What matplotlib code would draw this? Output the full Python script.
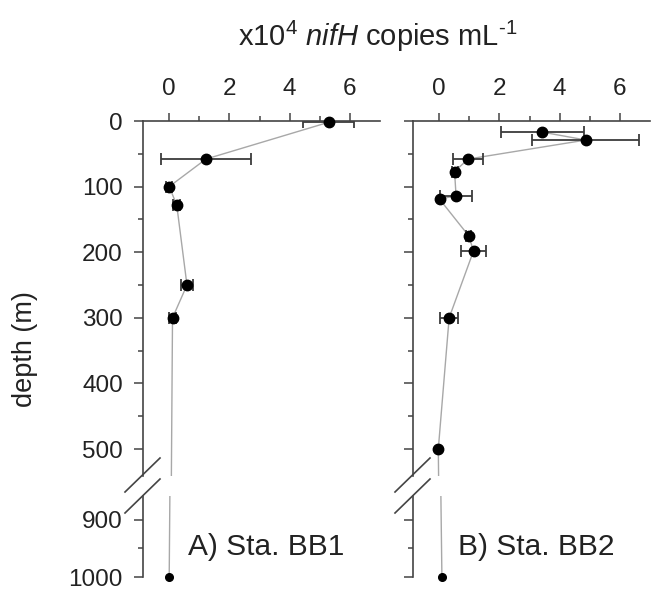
import matplotlib
matplotlib.use('Agg')
import matplotlib.pyplot as plt
from matplotlib.lines import Line2D
import numpy as np

plt.rcParams['font.family'] = ['Liberation Sans', 'DejaVu Sans']
plt.rcParams['mathtext.fontset'] = 'custom'
plt.rcParams['mathtext.rm'] = 'Liberation Sans'
plt.rcParams['mathtext.it'] = 'Liberation Sans:italic'

# station BB1 (depth in m, x10^4 nifH copies per mL, error)
depth_a = [2, 58, 100, 128, 250, 300, 1000]
nifh_a = [5.29, 1.22, 0.0, 0.25, 0.59, 0.11, 0.0]
err_a = [0.85, 1.49, 0.1, 0.12, 0.21, 0.13, 0.0]

# station BB2
depth_b = [17, 29, 58, 77, 114, 119, 175, 198, 300, 500, 1000]
nifh_b = [3.43, 4.87, 0.96, 0.51, 0.56, 0.01, 0.98, 1.14, 0.33, -0.03, 0.09]
err_b = [1.38, 1.78, 0.5, 0.1, 0.53, 0.0, 0.08, 0.4, 0.31, 0.0, 0.0]

labels = ['A) Sta. BB1', 'B) Sta. BB2']

W, H = 651, 595
fig = plt.figure(figsize=(W / 100, H / 100), dpi=100)

line_col = '#a8a8a8'
err_col = '#3c3c3c'
tick_fs = 17.5


def px_box(x0, y0, x1, y1):
    # pixel box (top-left origin) -> figure fraction rect
    return [x0 / W, 1 - y1 / H, (x1 - x0) / W, (y1 - y0) / H]


def draw_panel(left, depth, vals, errs, label, show_ylabels):
    right = left + 237
    up = fig.add_axes(px_box(left, 121, right, 476))
    lo = fig.add_axes(px_box(left, 496, right, 577))
    depth = np.array(depth)
    vals = np.array(vals)
    errs = np.array(errs)

    for ax, (ymax, ymin) in [(up, (541, 0)), (lo, (1000, 858))]:
        ax.plot(vals, depth, color=line_col, lw=1.0, zorder=1)
        inside = (depth >= min(ymax, ymin)) & (depth <= max(ymax, ymin))
        e = inside & (errs > 0)
        ax.errorbar(vals[e], depth[e], xerr=errs[e], fmt='none', ecolor=err_col,
                    elinewidth=1.3, capsize=4.5, capthick=1.3, zorder=2)
        big = inside & (depth < 900)
        ax.plot(vals[big], depth[big], 'o', color='black', ms=7.5, zorder=3, clip_on=False)
        small = inside & (depth >= 900)
        ax.plot(vals[small], depth[small], 'o', color='black', ms=5.5, zorder=3, clip_on=False)
        ax.set_xlim(-0.87, 7.0)
        ax.set_ylim(ymax, ymin)
        ax.spines['right'].set_visible(False)
        ax.spines['bottom'].set_visible(False)
        for s in ['left', 'top']:
            ax.spines[s].set_color('#444444')
            ax.spines[s].set_linewidth(1.2)
        ax.tick_params(axis='y', which='major', length=6.5, width=1.1, colors='#444444',
                       labelcolor='#222222', labelsize=tick_fs, pad=8, labelleft=show_ylabels)
        ax.tick_params(axis='y', which='minor', length=3.5, width=1.1, colors='#444444')
        ax.patch.set_alpha(0)

    up.set_yticks([0, 100, 200, 300, 400, 500])
    up.set_yticks(np.arange(50, 550, 100), minor=True)
    lo.set_yticks([900, 1000])
    lo.set_yticks([950], minor=True)

    up.xaxis.tick_top()
    up.set_xticks([0, 2, 4, 6])
    up.set_xticks([1, 3, 5], minor=True)
    up.tick_params(axis='x', which='major', length=6, width=1.1, colors='#444444',
                   labelcolor='#222222', labelsize=tick_fs, pad=9)
    up.tick_params(axis='x', which='minor', length=3.5, width=1.1, colors='#444444')

    lo.spines['top'].set_visible(False)
    lo.tick_params(axis='x', which='both', bottom=False, top=False,
                   labelbottom=False, labeltop=False)

    lo.text(0.19, 0.37, label, transform=lo.transAxes, fontsize=21.5,
            color='#222222', va='center', ha='left')

    # break marks across the left spine
    for yc in (475, 496):
        fig.add_artist(Line2D([(left - 18) / W, (left + 17) / W],
                              [1 - (yc + 17) / H, 1 - (yc - 17) / H],
                              color='#444444', lw=1.2, transform=fig.transFigure))


draw_panel(143, depth_a, nifh_a, err_a, labels[0], True)
draw_panel(413, depth_b, nifh_b, err_b, labels[1], False)

fig.text(378 / W, 1 - 36 / H, r'x10$^{4}$ $\mathit{nifH}$ copies mL$^{\mathrm{\text{-}1}}$',
         fontsize=21, color='#222222', ha='center', va='center')
fig.text(25 / W, 1 - 349 / H, 'depth (m)', fontsize=19.5, color='#222222',
         rotation=90, ha='center', va='center')

fig.savefig('out.png', dpi=100)
